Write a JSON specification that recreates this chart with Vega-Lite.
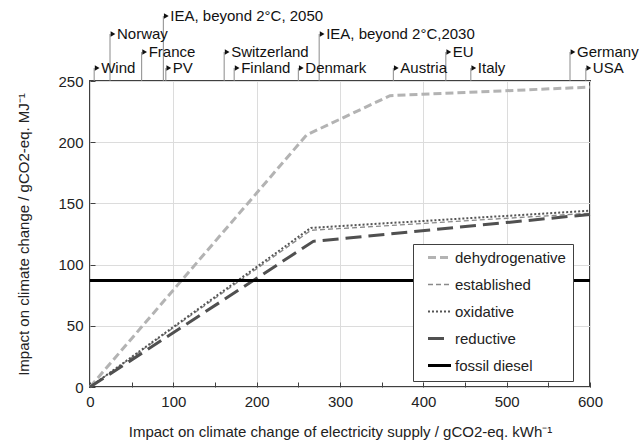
{
  "$schema": "https://vega.github.io/schema/vega-lite/v6.json",
  "width": 500,
  "height": 306,
  "autosize": {"type": "none"},
  "padding": {"left": 90, "top": 81, "right": 50, "bottom": 56},
  "background": "white",
  "config": {
    "font": "Liberation Sans",
    "view": {"stroke": "#404040", "strokeWidth": 2},
    "axis": {
      "labelFontSize": 15,
      "titleFontSize": 15,
      "titleFontWeight": "normal",
      "labelColor": "#222",
      "titleColor": "#222",
      "gridColor": "#dcdcdc",
      "domain": false,
      "tickColor": "#404040",
      "tickWidth": 1,
      "labelFlush": false
    }
  },
  "datasets": {
    "lines": [
      {"series": "dehydrogenative", "x": 0, "y": 0},
      {"series": "dehydrogenative", "x": 260, "y": 206},
      {"series": "dehydrogenative", "x": 360, "y": 238},
      {"series": "dehydrogenative", "x": 600, "y": 245},
      {"series": "established", "x": 0, "y": 0},
      {"series": "established", "x": 265, "y": 128},
      {"series": "established", "x": 600, "y": 142},
      {"series": "oxidative", "x": 0, "y": 0},
      {"series": "oxidative", "x": 265, "y": 130},
      {"series": "oxidative", "x": 600, "y": 144},
      {"series": "reductive", "x": 0, "y": 0},
      {"series": "reductive", "x": 268, "y": 119},
      {"series": "reductive", "x": 600, "y": 141},
      {"series": "fossil diesel", "x": 0, "y": 87},
      {"series": "fossil diesel", "x": 600, "y": 87}
    ],
    "marks": [
      {"name": "Wind", "x": 5, "level": 260.6},
      {"name": "Norway", "x": 24, "level": 288.4},
      {"name": "France", "x": 62, "level": 273.7},
      {"name": "IEA, beyond 2°C, 2050", "x": 88, "level": 303.1},
      {"name": "PV", "x": 91, "level": 260.6},
      {"name": "Switzerland", "x": 161, "level": 273.7},
      {"name": "Finland", "x": 173, "level": 260.6},
      {"name": "Denmark", "x": 250, "level": 260.6},
      {"name": "IEA, beyond 2°C,2030", "x": 275, "level": 288.4},
      {"name": "Austria", "x": 364, "level": 260.6},
      {"name": "EU", "x": 427, "level": 273.7},
      {"name": "Italy", "x": 457, "level": 260.6},
      {"name": "Germany", "x": 576, "level": 273.7},
      {"name": "USA", "x": 595, "level": 260.6}
    ]
  },
  "layer": [
    {
      "data": {"name": "lines"},
      "mark": {"type": "line"},
      "encoding": {
        "x": {
          "field": "x", "type": "quantitative",
          "scale": {"domain": [0, 600], "nice": false},
          "axis": {
            "title": "Impact on climate change of electricity supply / gCO2-eq. kWh⁻¹",
            "values": [0, 50, 100, 150, 200, 250, 300, 350, 400, 450, 500, 550, 600],
            "labelExpr": "datum.value % 100 === 0 ? datum.label : ''",
            "gridOpacity": {"condition": {"test": "datum.value % 100 !== 0", "value": 0}, "value": 1},
            "tickSize": -5,
            "labelPadding": 12,
            "titlePadding": 15
          }
        },
        "y": {
          "field": "y", "type": "quantitative",
          "scale": {"domain": [0, 250], "nice": false},
          "axis": {
            "title": "Impact on climate change / gCO2-eq. MJ⁻¹",
            "values": [0, 25, 50, 75, 100, 125, 150, 175, 200, 225, 250],
            "labelExpr": "datum.value % 50 === 0 ? datum.label : ''",
            "gridOpacity": {"condition": {"test": "datum.value % 50 !== 0", "value": 0}, "value": 1},
            "tickSize": -5,
            "labelPadding": 12,
            "titlePadding": 26
          }
        },
        "color": {
          "field": "series", "type": "nominal",
          "scale": {
            "domain": ["dehydrogenative", "established", "oxidative", "reductive", "fossil diesel"],
            "range": ["#b3b3b3", "#8a8a8a", "#555555", "#505050", "#000000"]
          },
          "legend": {
            "title": null,
            "orient": "none",
            "legendX": 323,
            "legendY": 163,
            "symbolType": "stroke",
            "symbolSize": 530,
            "clipHeight": 13,
            "labelFontSize": 15,
            "labelColor": "#222",
            "rowPadding": 11,
            "padding": 7,
            "symbolOffset": 6,
            "labelOffset": 2,
            "strokeColor": "#404040",
            "fillColor": "white",
            "cornerRadius": 0
          }
        },
        "strokeDash": {
          "field": "series", "type": "nominal",
          "scale": {
            "domain": ["dehydrogenative", "established", "oxidative", "reductive", "fossil diesel"],
            "range": [[8, 4], [5, 3], [2, 2], [16, 7], [1, 0]]
          }
        },
        "strokeWidth": {
          "field": "series", "type": "nominal",
          "scale": {
            "type": "ordinal",
            "domain": ["dehydrogenative", "established", "oxidative", "reductive", "fossil diesel"],
            "range": [3, 1.3, 2, 3, 3]
          }
        }
      }
    },
    {
      "data": {"name": "marks"},
      "mark": {"type": "rule", "color": "#8a8a8a", "strokeWidth": 1},
      "encoding": {
        "x": {"field": "x", "type": "quantitative"},
        "y": {"field": "level", "type": "quantitative"},
        "y2": {"datum": 250}
      }
    },
    {
      "data": {"name": "marks"},
      "mark": {"type": "point", "shape": "triangle-right", "filled": true, "color": "#111", "opacity": 1, "size": 30, "xOffset": 3},
      "encoding": {
        "x": {"field": "x", "type": "quantitative"},
        "y": {"field": "level", "type": "quantitative"}
      }
    },
    {
      "data": {"name": "marks"},
      "mark": {"type": "text", "align": "left", "baseline": "middle", "dx": 7, "fontSize": 15, "color": "#111"},
      "encoding": {
        "x": {"field": "x", "type": "quantitative"},
        "y": {"field": "level", "type": "quantitative"},
        "text": {"field": "name"}
      }
    }
  ]
}
